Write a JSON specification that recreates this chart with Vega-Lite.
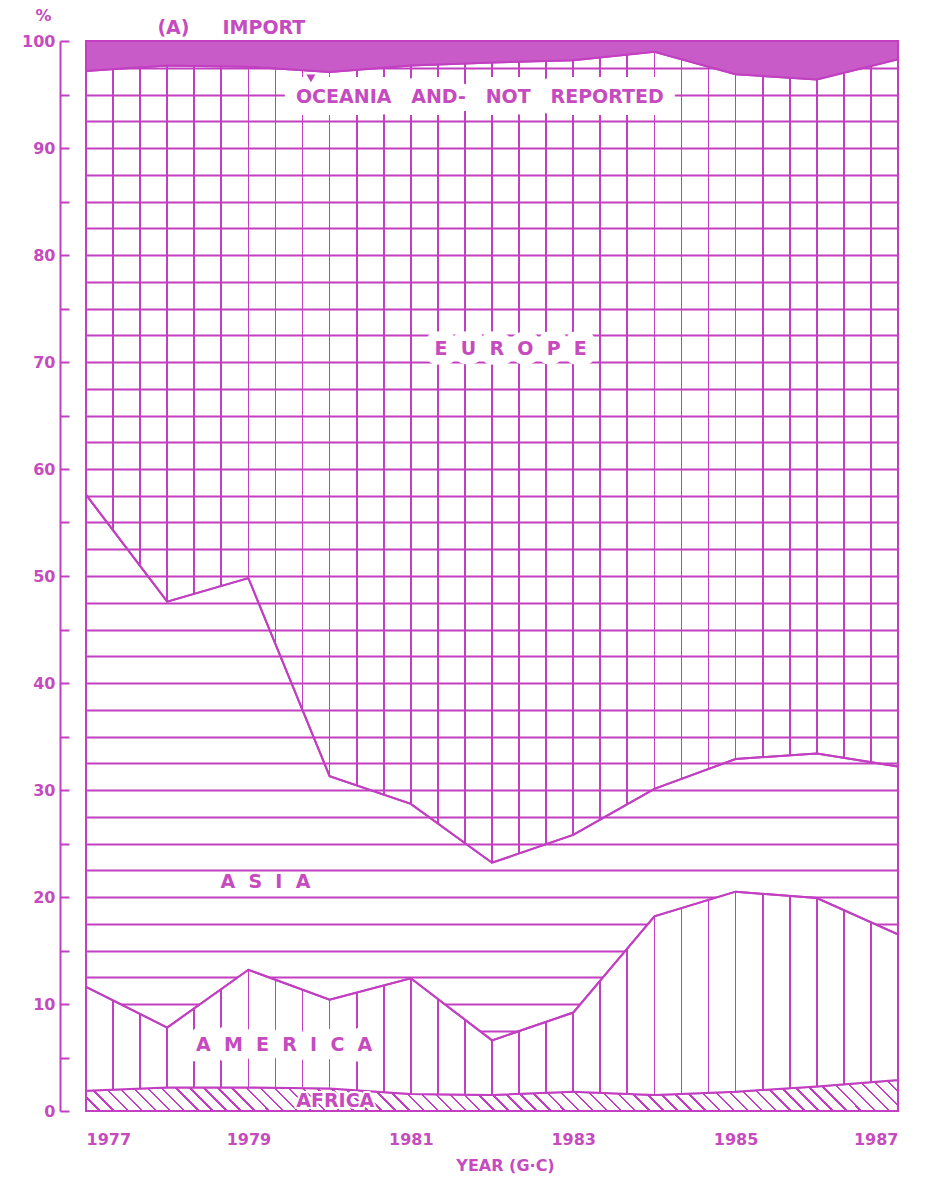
{
  "$schema": "https://vega.github.io/schema/vega-lite/v6.json",
  "width": 812,
  "height": 1070,
  "autosize": {"type": "none"},
  "padding": {"left": 86, "top": 41, "right": 37, "bottom": 69},
  "background": "white",
  "config": {
    "view": {"stroke": null},
    "font": "DejaVu Sans",
    "axis": {"labelColor": "#c54bbf", "labelFont": "DejaVu Sans", "labelFontSize": 16, "labelFontWeight": "bold", "titleColor": "#c54bbf", "titleFont": "DejaVu Sans", "titleFontWeight": "bold", "titleFontSize": 16},
    "text": {"font": "DejaVu Sans"}
  },
  "datasets": {
    "shares": [
      {"year": 1977, "region": "Africa", "share": 1.9}, {"year": 1977, "region": "America", "share": 9.7}, {"year": 1977, "region": "Asia", "share": 46.0}, {"year": 1977, "region": "Europe", "share": 39.6}, {"year": 1977, "region": "Oceania and not reported", "share": 2.8},
      {"year": 1978, "region": "Africa", "share": 2.2}, {"year": 1978, "region": "America", "share": 5.6}, {"year": 1978, "region": "Asia", "share": 39.8}, {"year": 1978, "region": "Europe", "share": 50.1}, {"year": 1978, "region": "Oceania and not reported", "share": 2.3},
      {"year": 1979, "region": "Africa", "share": 2.2}, {"year": 1979, "region": "America", "share": 11.0}, {"year": 1979, "region": "Asia", "share": 36.6}, {"year": 1979, "region": "Europe", "share": 47.8}, {"year": 1979, "region": "Oceania and not reported", "share": 2.4},
      {"year": 1980, "region": "Africa", "share": 2.1}, {"year": 1980, "region": "America", "share": 8.3}, {"year": 1980, "region": "Asia", "share": 20.9}, {"year": 1980, "region": "Europe", "share": 65.8}, {"year": 1980, "region": "Oceania and not reported", "share": 2.9},
      {"year": 1981, "region": "Africa", "share": 1.6}, {"year": 1981, "region": "America", "share": 10.8}, {"year": 1981, "region": "Asia", "share": 16.3}, {"year": 1981, "region": "Europe", "share": 69.0}, {"year": 1981, "region": "Oceania and not reported", "share": 2.3},
      {"year": 1982, "region": "Africa", "share": 1.5}, {"year": 1982, "region": "America", "share": 5.1}, {"year": 1982, "region": "Asia", "share": 16.6}, {"year": 1982, "region": "Europe", "share": 74.8}, {"year": 1982, "region": "Oceania and not reported", "share": 2.0},
      {"year": 1983, "region": "Africa", "share": 1.8}, {"year": 1983, "region": "America", "share": 7.4}, {"year": 1983, "region": "Asia", "share": 16.6}, {"year": 1983, "region": "Europe", "share": 72.4}, {"year": 1983, "region": "Oceania and not reported", "share": 1.8},
      {"year": 1984, "region": "Africa", "share": 1.5}, {"year": 1984, "region": "America", "share": 16.7}, {"year": 1984, "region": "Asia", "share": 11.9}, {"year": 1984, "region": "Europe", "share": 68.9}, {"year": 1984, "region": "Oceania and not reported", "share": 1.0},
      {"year": 1985, "region": "Africa", "share": 1.8}, {"year": 1985, "region": "America", "share": 18.7}, {"year": 1985, "region": "Asia", "share": 12.4}, {"year": 1985, "region": "Europe", "share": 64.0}, {"year": 1985, "region": "Oceania and not reported", "share": 3.1},
      {"year": 1986, "region": "Africa", "share": 2.3}, {"year": 1986, "region": "America", "share": 17.6}, {"year": 1986, "region": "Asia", "share": 13.5}, {"year": 1986, "region": "Europe", "share": 63.0}, {"year": 1986, "region": "Oceania and not reported", "share": 3.6},
      {"year": 1987, "region": "Africa", "share": 2.9}, {"year": 1987, "region": "America", "share": 13.6}, {"year": 1987, "region": "Asia", "share": 15.7}, {"year": 1987, "region": "Europe", "share": 66.1}, {"year": 1987, "region": "Oceania and not reported", "share": 1.7}
    ],
    "labels": [
      {"name": "import", "text": "(A)\u2007\u2007 IMPORT", "year": 1978.79, "pct": 101.2},
      {"name": "oceania", "text": "OCEANIA\u2007 AND-\u2007 NOT\u2007 REPORTED", "year": 1981.85, "pct": 94.8},
      {"name": "europe", "text": "E\u2007U\u2007R\u2007O\u2007P\u2007E", "year": 1982.23, "pct": 71.2},
      {"name": "asia", "text": "A\u2007S\u2007I\u2007A", "year": 1979.21, "pct": 21.4},
      {"name": "america", "text": "A\u2007M\u2007E\u2007R\u2007I\u2007C\u2007A", "year": 1979.44, "pct": 6.17},
      {"name": "africa", "text": "AFRICA", "year": 1980.07, "pct": 0.93}
    ],
    "pointer": [{"year": 1979.77, "pct": 96.5}]
  },
  "encoding": {
    "x": {"field": "year", "type": "quantitative", "scale": {"domain": [1977, 1987], "nice": false, "zero": false},
      "axis": {"values": [1977, 1979, 1981, 1983, 1985, 1987], "format": "d", "ticks": false, "domain": false, "grid": false, "labelPadding": 20, "labelFlush": true,
        "title": "YEAR (G·C)", "titleX": 419, "titleY": 54, "titleBaseline": "middle", "titleAlign": "center"}},
    "y": {"field": "pct", "type": "quantitative", "scale": {"domain": [0, 100], "nice": false},
      "axis": {"values": [0, 2.5, 5, 7.5, 10, 12.5, 15, 17.5, 20, 22.5, 25, 27.5, 30, 32.5, 35, 37.5, 40, 42.5, 45, 47.5, 50, 52.5, 55, 57.5, 60, 62.5, 65, 67.5, 70, 72.5, 75, 77.5, 80, 82.5, 85, 87.5, 90, 92.5, 95, 97.5, 100],
        "offset": 26, "domainColor": "#c13fc0", "domainWidth": 2,
        "tickColor": "#c13fc0", "tickWidth": 2, "tickSize": -9,
        "tickOpacity": {"condition": {"test": "datum.value % 5 === 0", "value": 1}, "value": 0},
        "grid": true, "gridColor": "#c13fc0", "gridWidth": 1.8,
        "gridOpacity": {"condition": {"test": "datum.value > 0 && datum.value < 100", "value": 1}, "value": 0},
        "labelExpr": "datum.value % 10 === 0 ? datum.value : ''", "labelOverlap": false, "labelPadding": 14,
        "title": "%", "titleAngle": 0, "titleAlign": "center", "titleBaseline": "middle", "titleX": -17, "titleY": -26}}
  },
  "layer": [
    {
      "data": {"name": "shares"},
      "transform": [{"stack": "share", "groupby": ["year"], "sort": [{"field": "region", "order": "ascending"}], "as": ["lo", "pct"]}],
      "encoding": {"y2": {"field": "lo"}},
      "layer": [
        {"transform": [{"filter": "datum.region === 'Africa'"}],
         "mark": {"type": "area", "stroke": "#c13fc0", "strokeWidth": 2,
           "fill": {"gradient": "linear", "x1": 0, "y1": 1, "x2": 1.04, "y2": 0.9603, "stops": [
            {"offset":0,"color":"white"},
            {"offset":0.0152,"color":"white"},{"offset":0.0152,"color":"#c13fc0"},{"offset":0.0182,"color":"#c13fc0"},{"offset":0.0182,"color":"white"},
            {"offset":0.0318,"color":"white"},{"offset":0.0318,"color":"#c13fc0"},{"offset":0.0348,"color":"#c13fc0"},{"offset":0.0348,"color":"white"},
            {"offset":0.0485,"color":"white"},{"offset":0.0485,"color":"#c13fc0"},{"offset":0.0515,"color":"#c13fc0"},{"offset":0.0515,"color":"white"},
            {"offset":0.0652,"color":"white"},{"offset":0.0652,"color":"#c13fc0"},{"offset":0.0682,"color":"#c13fc0"},{"offset":0.0682,"color":"white"},
            {"offset":0.0818,"color":"white"},{"offset":0.0818,"color":"#c13fc0"},{"offset":0.0848,"color":"#c13fc0"},{"offset":0.0848,"color":"white"},
            {"offset":0.0985,"color":"white"},{"offset":0.0985,"color":"#c13fc0"},{"offset":0.1015,"color":"#c13fc0"},{"offset":0.1015,"color":"white"},
            {"offset":0.1152,"color":"white"},{"offset":0.1152,"color":"#c13fc0"},{"offset":0.1182,"color":"#c13fc0"},{"offset":0.1182,"color":"white"},
            {"offset":0.1318,"color":"white"},{"offset":0.1318,"color":"#c13fc0"},{"offset":0.1348,"color":"#c13fc0"},{"offset":0.1348,"color":"white"},
            {"offset":0.1485,"color":"white"},{"offset":0.1485,"color":"#c13fc0"},{"offset":0.1515,"color":"#c13fc0"},{"offset":0.1515,"color":"white"},
            {"offset":0.1652,"color":"white"},{"offset":0.1652,"color":"#c13fc0"},{"offset":0.1682,"color":"#c13fc0"},{"offset":0.1682,"color":"white"},
            {"offset":0.1818,"color":"white"},{"offset":0.1818,"color":"#c13fc0"},{"offset":0.1848,"color":"#c13fc0"},{"offset":0.1848,"color":"white"},
            {"offset":0.1985,"color":"white"},{"offset":0.1985,"color":"#c13fc0"},{"offset":0.2015,"color":"#c13fc0"},{"offset":0.2015,"color":"white"},
            {"offset":0.2152,"color":"white"},{"offset":0.2152,"color":"#c13fc0"},{"offset":0.2182,"color":"#c13fc0"},{"offset":0.2182,"color":"white"},
            {"offset":0.2318,"color":"white"},{"offset":0.2318,"color":"#c13fc0"},{"offset":0.2348,"color":"#c13fc0"},{"offset":0.2348,"color":"white"},
            {"offset":0.2485,"color":"white"},{"offset":0.2485,"color":"#c13fc0"},{"offset":0.2515,"color":"#c13fc0"},{"offset":0.2515,"color":"white"},
            {"offset":0.2652,"color":"white"},{"offset":0.2652,"color":"#c13fc0"},{"offset":0.2682,"color":"#c13fc0"},{"offset":0.2682,"color":"white"},
            {"offset":0.2818,"color":"white"},{"offset":0.2818,"color":"#c13fc0"},{"offset":0.2848,"color":"#c13fc0"},{"offset":0.2848,"color":"white"},
            {"offset":0.2985,"color":"white"},{"offset":0.2985,"color":"#c13fc0"},{"offset":0.3015,"color":"#c13fc0"},{"offset":0.3015,"color":"white"},
            {"offset":0.3152,"color":"white"},{"offset":0.3152,"color":"#c13fc0"},{"offset":0.3182,"color":"#c13fc0"},{"offset":0.3182,"color":"white"},
            {"offset":0.3318,"color":"white"},{"offset":0.3318,"color":"#c13fc0"},{"offset":0.3348,"color":"#c13fc0"},{"offset":0.3348,"color":"white"},
            {"offset":0.3485,"color":"white"},{"offset":0.3485,"color":"#c13fc0"},{"offset":0.3515,"color":"#c13fc0"},{"offset":0.3515,"color":"white"},
            {"offset":0.3652,"color":"white"},{"offset":0.3652,"color":"#c13fc0"},{"offset":0.3682,"color":"#c13fc0"},{"offset":0.3682,"color":"white"},
            {"offset":0.3818,"color":"white"},{"offset":0.3818,"color":"#c13fc0"},{"offset":0.3848,"color":"#c13fc0"},{"offset":0.3848,"color":"white"},
            {"offset":0.3985,"color":"white"},{"offset":0.3985,"color":"#c13fc0"},{"offset":0.4015,"color":"#c13fc0"},{"offset":0.4015,"color":"white"},
            {"offset":0.4152,"color":"white"},{"offset":0.4152,"color":"#c13fc0"},{"offset":0.4182,"color":"#c13fc0"},{"offset":0.4182,"color":"white"},
            {"offset":0.4318,"color":"white"},{"offset":0.4318,"color":"#c13fc0"},{"offset":0.4348,"color":"#c13fc0"},{"offset":0.4348,"color":"white"},
            {"offset":0.4485,"color":"white"},{"offset":0.4485,"color":"#c13fc0"},{"offset":0.4515,"color":"#c13fc0"},{"offset":0.4515,"color":"white"},
            {"offset":0.4652,"color":"white"},{"offset":0.4652,"color":"#c13fc0"},{"offset":0.4682,"color":"#c13fc0"},{"offset":0.4682,"color":"white"},
            {"offset":0.4818,"color":"white"},{"offset":0.4818,"color":"#c13fc0"},{"offset":0.4848,"color":"#c13fc0"},{"offset":0.4848,"color":"white"},
            {"offset":0.4985,"color":"white"},{"offset":0.4985,"color":"#c13fc0"},{"offset":0.5015,"color":"#c13fc0"},{"offset":0.5015,"color":"white"},
            {"offset":0.5152,"color":"white"},{"offset":0.5152,"color":"#c13fc0"},{"offset":0.5182,"color":"#c13fc0"},{"offset":0.5182,"color":"white"},
            {"offset":0.5318,"color":"white"},{"offset":0.5318,"color":"#c13fc0"},{"offset":0.5348,"color":"#c13fc0"},{"offset":0.5348,"color":"white"},
            {"offset":0.5485,"color":"white"},{"offset":0.5485,"color":"#c13fc0"},{"offset":0.5515,"color":"#c13fc0"},{"offset":0.5515,"color":"white"},
            {"offset":0.5652,"color":"white"},{"offset":0.5652,"color":"#c13fc0"},{"offset":0.5682,"color":"#c13fc0"},{"offset":0.5682,"color":"white"},
            {"offset":0.5818,"color":"white"},{"offset":0.5818,"color":"#c13fc0"},{"offset":0.5848,"color":"#c13fc0"},{"offset":0.5848,"color":"white"},
            {"offset":0.5985,"color":"white"},{"offset":0.5985,"color":"#c13fc0"},{"offset":0.6015,"color":"#c13fc0"},{"offset":0.6015,"color":"white"},
            {"offset":0.6152,"color":"white"},{"offset":0.6152,"color":"#c13fc0"},{"offset":0.6182,"color":"#c13fc0"},{"offset":0.6182,"color":"white"},
            {"offset":0.6318,"color":"white"},{"offset":0.6318,"color":"#c13fc0"},{"offset":0.6348,"color":"#c13fc0"},{"offset":0.6348,"color":"white"},
            {"offset":0.6485,"color":"white"},{"offset":0.6485,"color":"#c13fc0"},{"offset":0.6515,"color":"#c13fc0"},{"offset":0.6515,"color":"white"},
            {"offset":0.6652,"color":"white"},{"offset":0.6652,"color":"#c13fc0"},{"offset":0.6682,"color":"#c13fc0"},{"offset":0.6682,"color":"white"},
            {"offset":0.6818,"color":"white"},{"offset":0.6818,"color":"#c13fc0"},{"offset":0.6848,"color":"#c13fc0"},{"offset":0.6848,"color":"white"},
            {"offset":0.6985,"color":"white"},{"offset":0.6985,"color":"#c13fc0"},{"offset":0.7015,"color":"#c13fc0"},{"offset":0.7015,"color":"white"},
            {"offset":0.7152,"color":"white"},{"offset":0.7152,"color":"#c13fc0"},{"offset":0.7182,"color":"#c13fc0"},{"offset":0.7182,"color":"white"},
            {"offset":0.7318,"color":"white"},{"offset":0.7318,"color":"#c13fc0"},{"offset":0.7348,"color":"#c13fc0"},{"offset":0.7348,"color":"white"},
            {"offset":0.7485,"color":"white"},{"offset":0.7485,"color":"#c13fc0"},{"offset":0.7515,"color":"#c13fc0"},{"offset":0.7515,"color":"white"},
            {"offset":0.7652,"color":"white"},{"offset":0.7652,"color":"#c13fc0"},{"offset":0.7682,"color":"#c13fc0"},{"offset":0.7682,"color":"white"},
            {"offset":0.7818,"color":"white"},{"offset":0.7818,"color":"#c13fc0"},{"offset":0.7848,"color":"#c13fc0"},{"offset":0.7848,"color":"white"},
            {"offset":0.7985,"color":"white"},{"offset":0.7985,"color":"#c13fc0"},{"offset":0.8015,"color":"#c13fc0"},{"offset":0.8015,"color":"white"},
            {"offset":0.8152,"color":"white"},{"offset":0.8152,"color":"#c13fc0"},{"offset":0.8182,"color":"#c13fc0"},{"offset":0.8182,"color":"white"},
            {"offset":0.8318,"color":"white"},{"offset":0.8318,"color":"#c13fc0"},{"offset":0.8348,"color":"#c13fc0"},{"offset":0.8348,"color":"white"},
            {"offset":0.8485,"color":"white"},{"offset":0.8485,"color":"#c13fc0"},{"offset":0.8515,"color":"#c13fc0"},{"offset":0.8515,"color":"white"},
            {"offset":0.8652,"color":"white"},{"offset":0.8652,"color":"#c13fc0"},{"offset":0.8682,"color":"#c13fc0"},{"offset":0.8682,"color":"white"},
            {"offset":0.8818,"color":"white"},{"offset":0.8818,"color":"#c13fc0"},{"offset":0.8848,"color":"#c13fc0"},{"offset":0.8848,"color":"white"},
            {"offset":0.8985,"color":"white"},{"offset":0.8985,"color":"#c13fc0"},{"offset":0.9015,"color":"#c13fc0"},{"offset":0.9015,"color":"white"},
            {"offset":0.9152,"color":"white"},{"offset":0.9152,"color":"#c13fc0"},{"offset":0.9182,"color":"#c13fc0"},{"offset":0.9182,"color":"white"},
            {"offset":0.9318,"color":"white"},{"offset":0.9318,"color":"#c13fc0"},{"offset":0.9348,"color":"#c13fc0"},{"offset":0.9348,"color":"white"},
            {"offset":0.9485,"color":"white"},{"offset":0.9485,"color":"#c13fc0"},{"offset":0.9515,"color":"#c13fc0"},{"offset":0.9515,"color":"white"},
            {"offset":0.9652,"color":"white"},{"offset":0.9652,"color":"#c13fc0"},{"offset":0.9682,"color":"#c13fc0"},{"offset":0.9682,"color":"white"},
            {"offset":0.9818,"color":"white"},{"offset":0.9818,"color":"#c13fc0"},{"offset":0.9848,"color":"#c13fc0"},{"offset":0.9848,"color":"white"},
            {"offset":1,"color":"white"}
           ]}}},
        {"transform": [{"filter": "datum.region === 'America'"}],
         "mark": {"type": "area", "stroke": "#c13fc0", "strokeWidth": 2,
           "fill": {"gradient": "linear", "x1": 0, "y1": 0, "x2": 1, "y2": 0, "stops": [
            {"offset":0,"color":"white"},
            {"offset":0.0322,"color":"white"},{"offset":0.0322,"color":"#c13fc0"},{"offset":0.0344,"color":"#c13fc0"},{"offset":0.0344,"color":"white"},
            {"offset":0.0656,"color":"white"},{"offset":0.0656,"color":"#c13fc0"},{"offset":0.0678,"color":"#c13fc0"},{"offset":0.0678,"color":"white"},
            {"offset":0.0989,"color":"white"},{"offset":0.0989,"color":"#c13fc0"},{"offset":0.1011,"color":"#c13fc0"},{"offset":0.1011,"color":"white"},
            {"offset":0.1322,"color":"white"},{"offset":0.1322,"color":"#c13fc0"},{"offset":0.1344,"color":"#c13fc0"},{"offset":0.1344,"color":"white"},
            {"offset":0.1656,"color":"white"},{"offset":0.1656,"color":"#c13fc0"},{"offset":0.1678,"color":"#c13fc0"},{"offset":0.1678,"color":"white"},
            {"offset":0.1989,"color":"white"},{"offset":0.1989,"color":"#c13fc0"},{"offset":0.2011,"color":"#c13fc0"},{"offset":0.2011,"color":"white"},
            {"offset":0.2322,"color":"white"},{"offset":0.2322,"color":"#c13fc0"},{"offset":0.2344,"color":"#c13fc0"},{"offset":0.2344,"color":"white"},
            {"offset":0.2656,"color":"white"},{"offset":0.2656,"color":"#c13fc0"},{"offset":0.2678,"color":"#c13fc0"},{"offset":0.2678,"color":"white"},
            {"offset":0.2989,"color":"white"},{"offset":0.2989,"color":"#c13fc0"},{"offset":0.3011,"color":"#c13fc0"},{"offset":0.3011,"color":"white"},
            {"offset":0.3322,"color":"white"},{"offset":0.3322,"color":"#c13fc0"},{"offset":0.3344,"color":"#c13fc0"},{"offset":0.3344,"color":"white"},
            {"offset":0.3656,"color":"white"},{"offset":0.3656,"color":"#c13fc0"},{"offset":0.3678,"color":"#c13fc0"},{"offset":0.3678,"color":"white"},
            {"offset":0.3989,"color":"white"},{"offset":0.3989,"color":"#c13fc0"},{"offset":0.4011,"color":"#c13fc0"},{"offset":0.4011,"color":"white"},
            {"offset":0.4322,"color":"white"},{"offset":0.4322,"color":"#c13fc0"},{"offset":0.4344,"color":"#c13fc0"},{"offset":0.4344,"color":"white"},
            {"offset":0.4656,"color":"white"},{"offset":0.4656,"color":"#c13fc0"},{"offset":0.4678,"color":"#c13fc0"},{"offset":0.4678,"color":"white"},
            {"offset":0.4989,"color":"white"},{"offset":0.4989,"color":"#c13fc0"},{"offset":0.5011,"color":"#c13fc0"},{"offset":0.5011,"color":"white"},
            {"offset":0.5322,"color":"white"},{"offset":0.5322,"color":"#c13fc0"},{"offset":0.5344,"color":"#c13fc0"},{"offset":0.5344,"color":"white"},
            {"offset":0.5656,"color":"white"},{"offset":0.5656,"color":"#c13fc0"},{"offset":0.5678,"color":"#c13fc0"},{"offset":0.5678,"color":"white"},
            {"offset":0.5989,"color":"white"},{"offset":0.5989,"color":"#c13fc0"},{"offset":0.6011,"color":"#c13fc0"},{"offset":0.6011,"color":"white"},
            {"offset":0.6322,"color":"white"},{"offset":0.6322,"color":"#c13fc0"},{"offset":0.6344,"color":"#c13fc0"},{"offset":0.6344,"color":"white"},
            {"offset":0.6656,"color":"white"},{"offset":0.6656,"color":"#c13fc0"},{"offset":0.6678,"color":"#c13fc0"},{"offset":0.6678,"color":"white"},
            {"offset":0.6989,"color":"white"},{"offset":0.6989,"color":"#c13fc0"},{"offset":0.7011,"color":"#c13fc0"},{"offset":0.7011,"color":"white"},
            {"offset":0.7322,"color":"white"},{"offset":0.7322,"color":"#c13fc0"},{"offset":0.7344,"color":"#c13fc0"},{"offset":0.7344,"color":"white"},
            {"offset":0.7656,"color":"white"},{"offset":0.7656,"color":"#c13fc0"},{"offset":0.7678,"color":"#c13fc0"},{"offset":0.7678,"color":"white"},
            {"offset":0.7989,"color":"white"},{"offset":0.7989,"color":"#c13fc0"},{"offset":0.8011,"color":"#c13fc0"},{"offset":0.8011,"color":"white"},
            {"offset":0.8322,"color":"white"},{"offset":0.8322,"color":"#c13fc0"},{"offset":0.8344,"color":"#c13fc0"},{"offset":0.8344,"color":"white"},
            {"offset":0.8656,"color":"white"},{"offset":0.8656,"color":"#c13fc0"},{"offset":0.8678,"color":"#c13fc0"},{"offset":0.8678,"color":"white"},
            {"offset":0.8989,"color":"white"},{"offset":0.8989,"color":"#c13fc0"},{"offset":0.9011,"color":"#c13fc0"},{"offset":0.9011,"color":"white"},
            {"offset":0.9322,"color":"white"},{"offset":0.9322,"color":"#c13fc0"},{"offset":0.9344,"color":"#c13fc0"},{"offset":0.9344,"color":"white"},
            {"offset":0.9656,"color":"white"},{"offset":0.9656,"color":"#c13fc0"},{"offset":0.9678,"color":"#c13fc0"},{"offset":0.9678,"color":"white"},
            {"offset":1,"color":"white"}
           ]}}},
        {"transform": [{"filter": "datum.region === 'Asia'"}],
         "mark": {"type": "area", "fill": "white", "fillOpacity": 0, "stroke": "#c13fc0", "strokeWidth": 2}},
        {"transform": [{"filter": "datum.region === 'Europe'"}],
         "mark": {"type": "area", "stroke": "#c13fc0", "strokeWidth": 2,
           "fill": {"gradient": "linear", "x1": 0, "y1": 0, "x2": 1, "y2": 0, "stops": [
            {"offset":0,"color":"rgba(193,63,192,0)"},
            {"offset":0.0322,"color":"rgba(193,63,192,0)"},{"offset":0.0322,"color":"#c13fc0"},{"offset":0.0344,"color":"#c13fc0"},{"offset":0.0344,"color":"rgba(193,63,192,0)"},
            {"offset":0.0656,"color":"rgba(193,63,192,0)"},{"offset":0.0656,"color":"#c13fc0"},{"offset":0.0678,"color":"#c13fc0"},{"offset":0.0678,"color":"rgba(193,63,192,0)"},
            {"offset":0.0989,"color":"rgba(193,63,192,0)"},{"offset":0.0989,"color":"#c13fc0"},{"offset":0.1011,"color":"#c13fc0"},{"offset":0.1011,"color":"rgba(193,63,192,0)"},
            {"offset":0.1322,"color":"rgba(193,63,192,0)"},{"offset":0.1322,"color":"#c13fc0"},{"offset":0.1344,"color":"#c13fc0"},{"offset":0.1344,"color":"rgba(193,63,192,0)"},
            {"offset":0.1656,"color":"rgba(193,63,192,0)"},{"offset":0.1656,"color":"#c13fc0"},{"offset":0.1678,"color":"#c13fc0"},{"offset":0.1678,"color":"rgba(193,63,192,0)"},
            {"offset":0.1989,"color":"rgba(193,63,192,0)"},{"offset":0.1989,"color":"#c13fc0"},{"offset":0.2011,"color":"#c13fc0"},{"offset":0.2011,"color":"rgba(193,63,192,0)"},
            {"offset":0.2322,"color":"rgba(193,63,192,0)"},{"offset":0.2322,"color":"#c13fc0"},{"offset":0.2344,"color":"#c13fc0"},{"offset":0.2344,"color":"rgba(193,63,192,0)"},
            {"offset":0.2656,"color":"rgba(193,63,192,0)"},{"offset":0.2656,"color":"#c13fc0"},{"offset":0.2678,"color":"#c13fc0"},{"offset":0.2678,"color":"rgba(193,63,192,0)"},
            {"offset":0.2989,"color":"rgba(193,63,192,0)"},{"offset":0.2989,"color":"#c13fc0"},{"offset":0.3011,"color":"#c13fc0"},{"offset":0.3011,"color":"rgba(193,63,192,0)"},
            {"offset":0.3322,"color":"rgba(193,63,192,0)"},{"offset":0.3322,"color":"#c13fc0"},{"offset":0.3344,"color":"#c13fc0"},{"offset":0.3344,"color":"rgba(193,63,192,0)"},
            {"offset":0.3656,"color":"rgba(193,63,192,0)"},{"offset":0.3656,"color":"#c13fc0"},{"offset":0.3678,"color":"#c13fc0"},{"offset":0.3678,"color":"rgba(193,63,192,0)"},
            {"offset":0.3989,"color":"rgba(193,63,192,0)"},{"offset":0.3989,"color":"#c13fc0"},{"offset":0.4011,"color":"#c13fc0"},{"offset":0.4011,"color":"rgba(193,63,192,0)"},
            {"offset":0.4322,"color":"rgba(193,63,192,0)"},{"offset":0.4322,"color":"#c13fc0"},{"offset":0.4344,"color":"#c13fc0"},{"offset":0.4344,"color":"rgba(193,63,192,0)"},
            {"offset":0.4656,"color":"rgba(193,63,192,0)"},{"offset":0.4656,"color":"#c13fc0"},{"offset":0.4678,"color":"#c13fc0"},{"offset":0.4678,"color":"rgba(193,63,192,0)"},
            {"offset":0.4989,"color":"rgba(193,63,192,0)"},{"offset":0.4989,"color":"#c13fc0"},{"offset":0.5011,"color":"#c13fc0"},{"offset":0.5011,"color":"rgba(193,63,192,0)"},
            {"offset":0.5322,"color":"rgba(193,63,192,0)"},{"offset":0.5322,"color":"#c13fc0"},{"offset":0.5344,"color":"#c13fc0"},{"offset":0.5344,"color":"rgba(193,63,192,0)"},
            {"offset":0.5656,"color":"rgba(193,63,192,0)"},{"offset":0.5656,"color":"#c13fc0"},{"offset":0.5678,"color":"#c13fc0"},{"offset":0.5678,"color":"rgba(193,63,192,0)"},
            {"offset":0.5989,"color":"rgba(193,63,192,0)"},{"offset":0.5989,"color":"#c13fc0"},{"offset":0.6011,"color":"#c13fc0"},{"offset":0.6011,"color":"rgba(193,63,192,0)"},
            {"offset":0.6322,"color":"rgba(193,63,192,0)"},{"offset":0.6322,"color":"#c13fc0"},{"offset":0.6344,"color":"#c13fc0"},{"offset":0.6344,"color":"rgba(193,63,192,0)"},
            {"offset":0.6656,"color":"rgba(193,63,192,0)"},{"offset":0.6656,"color":"#c13fc0"},{"offset":0.6678,"color":"#c13fc0"},{"offset":0.6678,"color":"rgba(193,63,192,0)"},
            {"offset":0.6989,"color":"rgba(193,63,192,0)"},{"offset":0.6989,"color":"#c13fc0"},{"offset":0.7011,"color":"#c13fc0"},{"offset":0.7011,"color":"rgba(193,63,192,0)"},
            {"offset":0.7322,"color":"rgba(193,63,192,0)"},{"offset":0.7322,"color":"#c13fc0"},{"offset":0.7344,"color":"#c13fc0"},{"offset":0.7344,"color":"rgba(193,63,192,0)"},
            {"offset":0.7656,"color":"rgba(193,63,192,0)"},{"offset":0.7656,"color":"#c13fc0"},{"offset":0.7678,"color":"#c13fc0"},{"offset":0.7678,"color":"rgba(193,63,192,0)"},
            {"offset":0.7989,"color":"rgba(193,63,192,0)"},{"offset":0.7989,"color":"#c13fc0"},{"offset":0.8011,"color":"#c13fc0"},{"offset":0.8011,"color":"rgba(193,63,192,0)"},
            {"offset":0.8322,"color":"rgba(193,63,192,0)"},{"offset":0.8322,"color":"#c13fc0"},{"offset":0.8344,"color":"#c13fc0"},{"offset":0.8344,"color":"rgba(193,63,192,0)"},
            {"offset":0.8656,"color":"rgba(193,63,192,0)"},{"offset":0.8656,"color":"#c13fc0"},{"offset":0.8678,"color":"#c13fc0"},{"offset":0.8678,"color":"rgba(193,63,192,0)"},
            {"offset":0.8989,"color":"rgba(193,63,192,0)"},{"offset":0.8989,"color":"#c13fc0"},{"offset":0.9011,"color":"#c13fc0"},{"offset":0.9011,"color":"rgba(193,63,192,0)"},
            {"offset":0.9322,"color":"rgba(193,63,192,0)"},{"offset":0.9322,"color":"#c13fc0"},{"offset":0.9344,"color":"#c13fc0"},{"offset":0.9344,"color":"rgba(193,63,192,0)"},
            {"offset":0.9656,"color":"rgba(193,63,192,0)"},{"offset":0.9656,"color":"#c13fc0"},{"offset":0.9678,"color":"#c13fc0"},{"offset":0.9678,"color":"rgba(193,63,192,0)"},
            {"offset":1,"color":"rgba(193,63,192,0)"}
           ]}}},
        {"transform": [{"filter": "datum.region === 'Oceania and not reported'"}],
         "mark": {"type": "area", "fill": "#c95bc8", "fillOpacity": 1, "stroke": "#c13fc0", "strokeWidth": 2}}
      ]
    },
    {
      "data": {"name": "labels"},
      "encoding": {"text": {"field": "text"}},
      "layer": [
        {"transform": [{"filter": "datum.name === 'oceania'"}],
         "mark": {"type": "text", "fontSize": 19, "fontWeight": "bold", "align": "center", "baseline": "middle", "fill": "white", "stroke": "white", "strokeWidth": 24, "strokeJoin": "round"}},
        {"transform": [{"filter": "datum.name === 'america'"}],
         "mark": {"type": "text", "fontSize": 19, "fontWeight": "bold", "align": "center", "baseline": "middle", "fill": "white", "stroke": "white", "strokeWidth": 21, "strokeJoin": "round"}},
        {"transform": [{"filter": "datum.name === 'europe'"}],
         "mark": {"type": "text", "fontSize": 19, "fontWeight": "bold", "align": "center", "baseline": "middle", "fill": "white", "stroke": "white", "strokeWidth": 19, "strokeJoin": "round"}},
        {"transform": [{"filter": "datum.name === 'africa'"}],
         "mark": {"type": "text", "fontSize": 19, "fontWeight": "bold", "align": "center", "baseline": "middle", "fill": "white", "stroke": "white", "strokeWidth": 4, "strokeJoin": "round"}},
        {"mark": {"type": "text", "fontSize": 19, "fontWeight": "bold", "align": "center", "baseline": "middle", "fill": "#c54bbf"}}
      ]
    },
    {
      "data": {"name": "pointer"},
      "mark": {"type": "point", "shape": "triangle-down", "filled": true, "size": 80, "color": "#c13fc0", "opacity": 1}
    }
  ]
}
